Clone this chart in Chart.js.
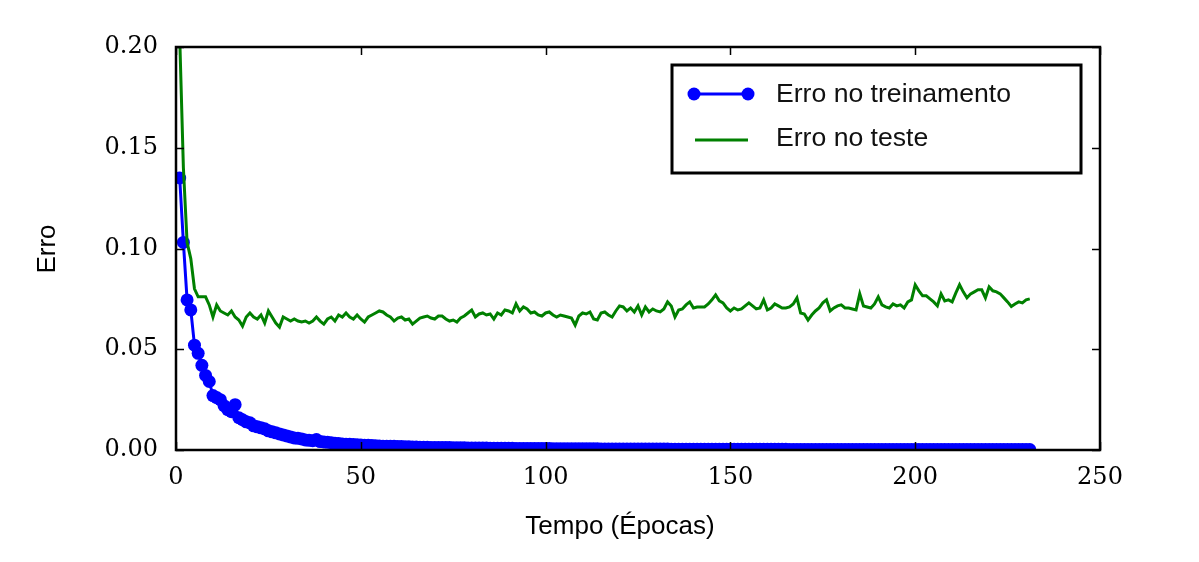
<!DOCTYPE html>
<html lang="pt">
<head>
<meta charset="UTF-8">
<title>Erro</title>
<script src="https://cdn.jsdelivr.net/npm/chart.js"></script>
<style>
  body { margin: 0; background: #fff; }
  #wrap { width: 1199px; height: 562px; }
</style>
</head>
<body>
<div id="wrap"><canvas id="myChart" width="1199" height="562"></canvas></div>
<script>
// erro no treinamento, uma entrada por epoca (1..231)
const trainErr = [
  0.135, 0.103, 0.0745, 0.0695, 0.052, 0.048, 0.042, 0.037, 0.034, 0.027,
  0.026, 0.025, 0.022, 0.020, 0.019, 0.0225, 0.016, 0.015, 0.014, 0.0135,
  0.012, 0.0115, 0.011, 0.0105, 0.0095, 0.009, 0.0085, 0.008, 0.0075, 0.007,
  0.0065, 0.006, 0.0058, 0.0055, 0.005, 0.0048, 0.0046, 0.0052, 0.0042, 0.004,
  0.0038, 0.0036, 0.0034, 0.0032, 0.003, 0.0029, 0.0028, 0.0027, 0.0026, 0.0025,
  0.0024, 0.0023, 0.0022, 0.0021, 0.002, 0.0019, 0.0019, 0.0018, 0.0018, 0.0017,
  0.0017, 0.0016, 0.0016, 0.0015, 0.0015, 0.0014, 0.0014, 0.0014, 0.0013, 0.0013,
  0.0013, 0.0012, 0.0012, 0.0012, 0.0011, 0.0011, 0.0011, 0.0011, 0.001, 0.001,
  0.001, 0.001, 0.00095, 0.00095, 0.0009, 0.0009, 0.0009, 0.00088, 0.00085, 0.00085,
  0.00083, 0.0008, 0.0008, 0.0008, 0.00078, 0.00076, 0.00075, 0.00074, 0.00072, 0.0007,
  0.0007, 0.00068, 0.00067, 0.00066, 0.00065, 0.00064, 0.00063, 0.00062, 0.00061, 0.0006,
  0.00059, 0.00058, 0.00057, 0.00056, 0.00055, 0.00055, 0.00054, 0.00053, 0.00052, 0.00052,
  0.00051, 0.0005, 0.0005, 0.00049, 0.00048, 0.00048, 0.00047, 0.00047, 0.00046, 0.00045,
  0.00045, 0.00044, 0.00044, 0.00043, 0.00043, 0.00042, 0.00042, 0.00041, 0.00041, 0.0004,
  0.0004, 0.00039, 0.00039, 0.00039, 0.00038, 0.00038, 0.00037, 0.00037, 0.00037, 0.00036,
  0.00036, 0.00036, 0.00035, 0.00035, 0.00035, 0.00034, 0.00034, 0.00034, 0.00033, 0.00033,
  0.00033, 0.00033, 0.00032, 0.00032, 0.00032, 0.00031, 0.00031, 0.00031, 0.00031, 0.0003,
  0.0003, 0.0003, 0.0003, 0.00029, 0.00029, 0.00029, 0.00029, 0.00028, 0.00028, 0.00028,
  0.00028, 0.00028, 0.00027, 0.00027, 0.00027, 0.00027, 0.00027, 0.00026, 0.00026, 0.00026,
  0.00026, 0.00026, 0.00025, 0.00025, 0.00025, 0.00025, 0.00025, 0.00024, 0.00024, 0.00024,
  0.00024, 0.00024, 0.00024, 0.00023, 0.00023, 0.00023, 0.00023, 0.00023, 0.00023, 0.00022,
  0.00022, 0.00022, 0.00022, 0.00022, 0.00022, 0.00021, 0.00021, 0.00021, 0.00021, 0.00021,
  0.00021, 0.0002, 0.0002, 0.0002, 0.0002, 0.0002, 0.0002, 0.0002, 0.00019, 0.00019, 0.00019
];

// erro no teste, mesmas epocas
const testErr = [
  0.205, 0.14, 0.103, 0.095, 0.08, 0.076, 0.076, 0.076, 0.072, 0.066,
  0.072, 0.069, 0.068, 0.067, 0.069, 0.066, 0.0645, 0.0615, 0.066, 0.068,
  0.066, 0.065, 0.067, 0.063, 0.069, 0.066, 0.063, 0.061, 0.066, 0.065,
  0.064, 0.065, 0.064, 0.0635, 0.064, 0.063, 0.064, 0.066, 0.064, 0.0625,
  0.065, 0.066, 0.064, 0.067, 0.066, 0.068, 0.066, 0.065, 0.067, 0.065,
  0.0635, 0.066, 0.067, 0.068, 0.069, 0.0685, 0.067, 0.066, 0.064, 0.0655,
  0.066, 0.0645, 0.065, 0.0625, 0.064, 0.0655, 0.066, 0.0665, 0.0655, 0.065,
  0.0665, 0.0665, 0.065, 0.064, 0.0645, 0.0635, 0.0655, 0.0665, 0.068, 0.0695,
  0.066, 0.0675, 0.068, 0.067, 0.0675, 0.065, 0.068, 0.067, 0.0695, 0.069,
  0.068, 0.0725, 0.069, 0.071, 0.070, 0.068, 0.0685, 0.067, 0.0665, 0.068,
  0.0685, 0.067, 0.066, 0.067, 0.0665, 0.066, 0.0655, 0.062, 0.0665, 0.068,
  0.0675, 0.0685, 0.065, 0.0645, 0.068, 0.0685, 0.067, 0.066, 0.069, 0.0715,
  0.071, 0.069, 0.0705, 0.0685, 0.0715, 0.067, 0.071, 0.0685, 0.070, 0.069,
  0.0685, 0.070, 0.0735, 0.0715, 0.066, 0.0695, 0.070, 0.072, 0.0735, 0.0705,
  0.071, 0.071, 0.071, 0.0725, 0.0745, 0.077, 0.074, 0.073, 0.0705, 0.069,
  0.0705, 0.0695, 0.070, 0.0715, 0.073, 0.0715, 0.070, 0.0705, 0.0745, 0.0695,
  0.0705, 0.0725, 0.0715, 0.0705, 0.0705, 0.071, 0.0725, 0.0755, 0.068, 0.0675,
  0.0645, 0.067, 0.069, 0.0705, 0.073, 0.0745, 0.069, 0.0705, 0.0715, 0.072,
  0.0705, 0.0705, 0.070, 0.0695, 0.0775, 0.0715, 0.071, 0.0705, 0.0725, 0.076,
  0.072, 0.071, 0.0705, 0.0725, 0.0715, 0.072, 0.0705, 0.0735, 0.0745, 0.082,
  0.079, 0.0765, 0.0765, 0.075, 0.0735, 0.0715, 0.0775, 0.074, 0.0745, 0.0735,
  0.078, 0.082, 0.0785, 0.0755, 0.0775, 0.0785, 0.0795, 0.0795, 0.0755, 0.081,
  0.079, 0.0785, 0.0775, 0.0755, 0.0735, 0.0712, 0.0725, 0.0735, 0.073, 0.0745, 0.075
];

const seriesNames = ["Erro no treinamento", "Erro no teste"];
const xTicks = [0, 50, 100, 150, 200, 250];
const yTicks = [0.00, 0.05, 0.10, 0.15, 0.20];
const xTitle = "Tempo (Épocas)";
const yTitle = "Erro";

const epochs = trainErr.map((_, i) => i + 1);
const BLUE = "#0000ff";
const GREEN = "#008000";

// moldura, ticks para dentro, titulos e legenda estilo matplotlib
const framePlugin = {
  id: "frame",
  afterDraw(chart) {
    const { ctx, chartArea: a, scales } = chart;
    ctx.save();
    ctx.strokeStyle = "#000";
    ctx.lineWidth = 1.5;
    ctx.beginPath();
    xTicks.forEach(v => {
      const px = Math.round(scales.x.getPixelForValue(v)) + 0.5;
      ctx.moveTo(px, a.bottom); ctx.lineTo(px, a.bottom - 8);
      ctx.moveTo(px, a.top); ctx.lineTo(px, a.top + 8);
    });
    yTicks.forEach(v => {
      const py = Math.round(scales.y.getPixelForValue(v)) + 0.5;
      ctx.moveTo(a.left, py); ctx.lineTo(a.left + 8, py);
      ctx.moveTo(a.right, py); ctx.lineTo(a.right - 8, py);
    });
    ctx.stroke();

    ctx.lineWidth = 2.5;
    ctx.strokeRect(a.left, a.top, a.right - a.left, a.bottom - a.top);

    // titulos dos eixos
    ctx.fillStyle = "#000";
    ctx.font = "26px 'Liberation Sans', Arial, sans-serif";
    ctx.textAlign = "center";
    ctx.textBaseline = "middle";
    ctx.fillText(xTitle, 620, 527);
    ctx.save();
    ctx.translate(48, 249);
    ctx.rotate(-Math.PI / 2);
    ctx.fillText(yTitle, 0, 0);
    ctx.restore();

    // legenda
    const lx = 672, ly = 65, lw = 409, lh = 108;
    ctx.fillStyle = "#fff";
    ctx.fillRect(lx, ly, lw, lh);
    ctx.lineWidth = 3;
    ctx.strokeStyle = "#000";
    ctx.strokeRect(lx, ly, lw, lh);

    ctx.lineWidth = 3;
    ctx.strokeStyle = BLUE;
    ctx.beginPath(); ctx.moveTo(694, 94); ctx.lineTo(748, 94); ctx.stroke();
    ctx.fillStyle = BLUE;
    [694, 748].forEach(px => { ctx.beginPath(); ctx.arc(px, 94, 6.5, 0, Math.PI * 2); ctx.fill(); });
    ctx.strokeStyle = GREEN;
    ctx.beginPath(); ctx.moveTo(695, 140); ctx.lineTo(748, 140); ctx.stroke();

    ctx.fillStyle = "#111";
    ctx.textAlign = "left";
    ctx.font = "26.6px 'Liberation Sans', Arial, sans-serif";
    ctx.fillText(seriesNames[0], 776, 95);
    ctx.fillText(seriesNames[1], 776, 139);
    ctx.restore();
  }
};

new Chart(document.getElementById("myChart"), {
  type: "line",
  data: {
    labels: epochs,
    datasets: [
      {
        label: seriesNames[0],
        data: epochs.map((e, i) => ({ x: e, y: trainErr[i] })),
        borderColor: BLUE,
        backgroundColor: BLUE,
        borderWidth: 3,
        pointRadius: 6.5,
        pointBorderWidth: 0,
        pointBackgroundColor: BLUE,
        tension: 0,
        clip: 0,
        order: 1
      },
      {
        label: seriesNames[1],
        data: epochs.map((e, i) => ({ x: e, y: testErr[i] })),
        borderColor: GREEN,
        borderWidth: 3,
        pointRadius: 0,
        tension: 0,
        clip: 0,
        order: 0
      }
    ]
  },
  options: {
    responsive: false,
    animation: false,
    layout: { padding: { left: 0, right: 99, top: 47, bottom: 0 } },
    plugins: { legend: { display: false }, tooltip: { enabled: false } },
    scales: {
      x: {
        type: "linear",
        min: 0,
        max: 250,
        afterFit: s => { s.height = 112; },
        afterBuildTicks: s => { s.ticks = xTicks.map(v => ({ value: v })); },
        grid: { display: false, drawTicks: false },
        border: { display: false },
        ticks: {
          padding: 13,
          color: "#000",
          font: { family: "'DejaVu Serif', serif", size: 24 },
          callback: v => String(v)
        }
      },
      y: {
        min: 0,
        max: 0.2,
        afterFit: s => { s.width = 176; },
        afterBuildTicks: s => { s.ticks = yTicks.map(v => ({ value: v })); },
        grid: { display: false, drawTicks: false },
        border: { display: false },
        ticks: {
          padding: 18,
          color: "#000",
          font: { family: "'DejaVu Serif', serif", size: 24 },
          callback: v => v.toFixed(2)
        }
      }
    }
  },
  plugins: [framePlugin]
});
</script>
</body>
</html>
